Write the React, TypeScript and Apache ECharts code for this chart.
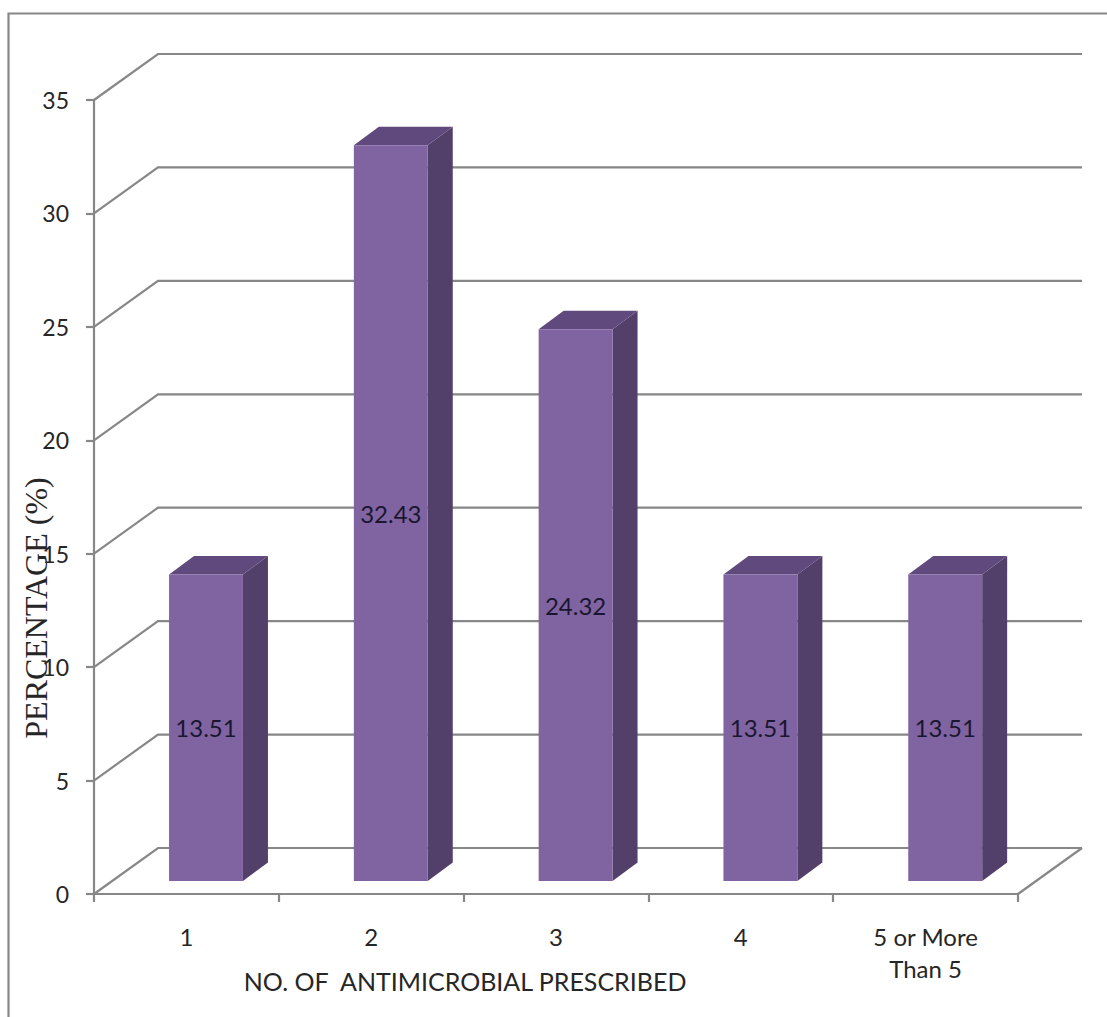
import React, { useEffect, useRef } from "react";
import * as echarts from "echarts";

const categories = ["1", "2", "3", "4", "5 or More\nThan 5"];
const percentages = [13.51, 32.43, 24.32, 13.51, 13.51];
const wallTicks = [0, 5, 10, 15, 20, 25, 30, 35];
const xTitle = "NO. OF  ANTIMICROBIAL PRESCRIBED";
const yTitle = "PERCENTAGE (%)";

const LINE = "#878787";
const FRONT = "#8064A2";
const SIDE = "#53406A";
const TOP = "#60497C";
const INK = "#262626";
const WALL_DX = 64;
const WALL_DY = 46;
const BAR_DX = 25;
const BAR_DY = 18.5;
const BAR_OFF_X = 19.6;
const BAR_OFF_Y = 13;
const SANS = "Lato, 'Noto Sans', sans-serif";

function renderWall(params: any, api: any) {
  const cs = params.coordSys;
  const y = api.coord([0, api.value(1)])[1];
  const l = cs.x;
  const r = cs.x + cs.width;
  const children: any[] = [
    {
      type: "polyline",
      shape: { points: [[l, y], [l + WALL_DX, y - WALL_DY], [r + WALL_DX, y - WALL_DY]] },
      style: { stroke: LINE, lineWidth: 2.2, fill: "none" },
    },
  ];
  if (api.value(1) === 0) {
    children.push({
      type: "line",
      shape: { x1: r, y1: y, x2: r + WALL_DX, y2: y - WALL_DY },
      style: { stroke: LINE, lineWidth: 2.2 },
    });
  }
  return { type: "group", children };
}

function renderBar(params: any, api: any) {
  const w = api.size([1, 0])[0] * 0.4;
  const top = api.coord([api.value(0), api.value(1)]);
  const base = api.coord([api.value(0), 0]);
  const x0 = top[0] + BAR_OFF_X - w / 2;
  const x1 = x0 + w;
  const yT = top[1] - BAR_OFF_Y;
  const yB = base[1] - BAR_OFF_Y;
  return {
    type: "group",
    children: [
      {
        type: "polygon",
        shape: { points: [[x1, yT], [x1 + BAR_DX, yT - BAR_DY], [x1 + BAR_DX, yB - BAR_DY], [x1, yB]] },
        style: { fill: SIDE },
      },
      {
        type: "polygon",
        shape: { points: [[x0, yT], [x0 + BAR_DX, yT - BAR_DY], [x1 + BAR_DX, yT - BAR_DY], [x1, yT]] },
        style: { fill: TOP },
      },
      { type: "rect", shape: { x: x0, y: yT, width: w, height: yB - yT }, style: { fill: FRONT } },
      {
        type: "text",
        x: (x0 + x1) / 2,
        y: (yT + yB) / 2,
        style: {
          text: String(api.value(1)),
          fill: "#1a1630",
          font: `24px ${SANS}`,
          align: "center",
          verticalAlign: "middle",
        },
      },
    ],
  };
}

export default function App() {
  const ref = useRef<HTMLDivElement>(null);
  useEffect(() => {
    document.body.style.margin = "0";
    const chart = echarts.init(ref.current!, undefined, { renderer: "svg" });
    chart.setOption({
      animation: false,
      backgroundColor: "#ffffff",
      grid: { left: 94, top: 100, width: 924, height: 794 },
      xAxis: {
        type: "category",
        data: categories,
        axisLine: { lineStyle: { color: LINE, width: 2.2 } },
        axisTick: { show: true, alignWithLabel: false, length: 8, lineStyle: { color: LINE, width: 2.2 } },
        axisLabel: { color: INK, fontFamily: SANS, fontSize: 24, margin: 26, lineHeight: 32, interval: 0 },
        z: 1,
      },
      yAxis: {
        type: "value",
        min: 0,
        max: 35,
        interval: 5,
        axisLine: { show: true, lineStyle: { color: LINE, width: 2.2 } },
        axisTick: { show: true, length: 8, lineStyle: { color: LINE, width: 2.2 } },
        axisLabel: { color: INK, fontFamily: SANS, fontSize: 23, margin: 25, padding: [4, 0, 0, 0] },
        splitLine: { show: false },
      },
      series: [
        {
          type: "custom",
          coordinateSystem: "cartesian2d",
          data: wallTicks.map((t) => [0, t]),
          encode: { x: 0, y: 1 },
          renderItem: renderWall,
          clip: false,
          silent: true,
          z: 2,
        },
        {
          type: "custom",
          coordinateSystem: "cartesian2d",
          data: percentages.map((v, i) => [i, v]),
          encode: { x: 0, y: 1 },
          renderItem: renderBar,
          clip: false,
          z: 3,
        },
      ],
      graphic: [
        {
          type: "polyline",
          shape: { points: [[8.5, 1017], [8.5, 13.5], [1107, 13.5]] },
          style: { stroke: LINE, lineWidth: 2.2, fill: "none" },
          z: 0,
        },
        {
          type: "text",
          x: 465,
          y: 981,
          style: { text: xTitle, fill: INK, font: `25px ${SANS}`, align: "center", verticalAlign: "middle" },
          z: 5,
        },
        {
          type: "text",
          x: 36,
          y: 608,
          rotation: Math.PI / 2,
          style: { text: yTitle, fill: INK, font: "32px 'Liberation Serif', serif", align: "center", verticalAlign: "middle" },
          z: 5,
        },
      ],
    });
    return () => chart.dispose();
  }, []);
  return <div ref={ref} style={{ position: "absolute", left: 0, top: 0, width: 1107, height: 1017 }} />;
}
